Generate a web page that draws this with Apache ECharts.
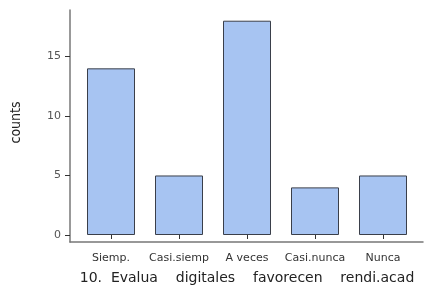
<!DOCTYPE html>
<html>
<head>
<meta charset="utf-8">
<script src="https://cdn.jsdelivr.net/npm/echarts@6/dist/echarts.min.js"></script>
<style>
html, body { margin: 0; padding: 0; background: #fff; }
#chart { width: 445px; height: 286px; }
</style>
</head>
<body>
<div id="chart"></div>
<script>
var categories = ['Siemp.', 'Casi.siemp', 'A veces', 'Casi.nunca', 'Nunca'];
var counts = [14, 5, 18, 4, 5];
var yTicks = [0, 5, 10, 15];
var xTitle = '10.  Evalua    digitales    favorecen    rendi.acad';
var yTitle = 'counts';

var chart = echarts.init(document.getElementById('chart'));

var option = {
	animation: false,
	grid: [
		{ left: 77, right: 28, top: 10, bottom: 51, outerBoundsMode: 'none' },   // bars
		{ left: 70, right: 22, top: 10, bottom: 44, outerBoundsMode: 'none' }    // detached axis lines
	],
	xAxis: [{
		type: 'category',
		gridIndex: 0,
		data: categories,
		offset: 7,
		axisLine: { show: false },
		axisTick: { show: true, alignWithLabel: true, length: 4, lineStyle: { color: '#333' } },
		axisLabel: { interval: 0, color: '#333', fontSize: 11, margin: 11, fontFamily: 'DejaVu Sans' },
		name: xTitle,
		nameLocation: 'middle',
		nameGap: 29,
		nameTextStyle: { color: '#222', fontSize: 14, fontFamily: 'DejaVu Sans' }
	}, {
		type: 'value',
		gridIndex: 1,
		axisLine: { show: true, lineStyle: { color: '#777', width: 1.5 } },
		axisTick: { show: false },
		axisLabel: { show: false },
		splitLine: { show: false }
	}],
	yAxis: [{
		type: 'value',
		gridIndex: 0,
		min: 0,
		max: 18.9,
		interval: 5,
		offset: 7,
		axisLine: { show: false },
		axisTick: { show: true, length: 5, lineStyle: { color: '#333' },
			customValues: yTicks },
		axisLabel: { color: '#555', fontSize: 11, margin: 9, fontFamily: 'DejaVu Sans',
			customValues: yTicks },
		splitLine: { show: false },
		name: yTitle,
		nameLocation: 'middle',
		nameRotate: 90,
		nameGap: 47,
		nameTextStyle: { color: '#222', fontSize: 14, fontFamily: 'Liberation Sans Narrow, DejaVu Sans Condensed, sans-serif' }
	}, {
		type: 'value',
		gridIndex: 1,
		axisLine: { show: true, lineStyle: { color: '#777', width: 1.5 } },
		axisTick: { show: false },
		axisLabel: { show: false },
		splitLine: { show: false }
	}],
	series: [{
		type: 'bar',
		xAxisIndex: 0,
		yAxisIndex: 0,
		data: counts,
		barWidth: 48,
		itemStyle: { color: '#A7C4F2', borderColor: '#3a3f4a', borderWidth: 1 }
	}]
};

chart.setOption(option);
</script>
</body>
</html>
